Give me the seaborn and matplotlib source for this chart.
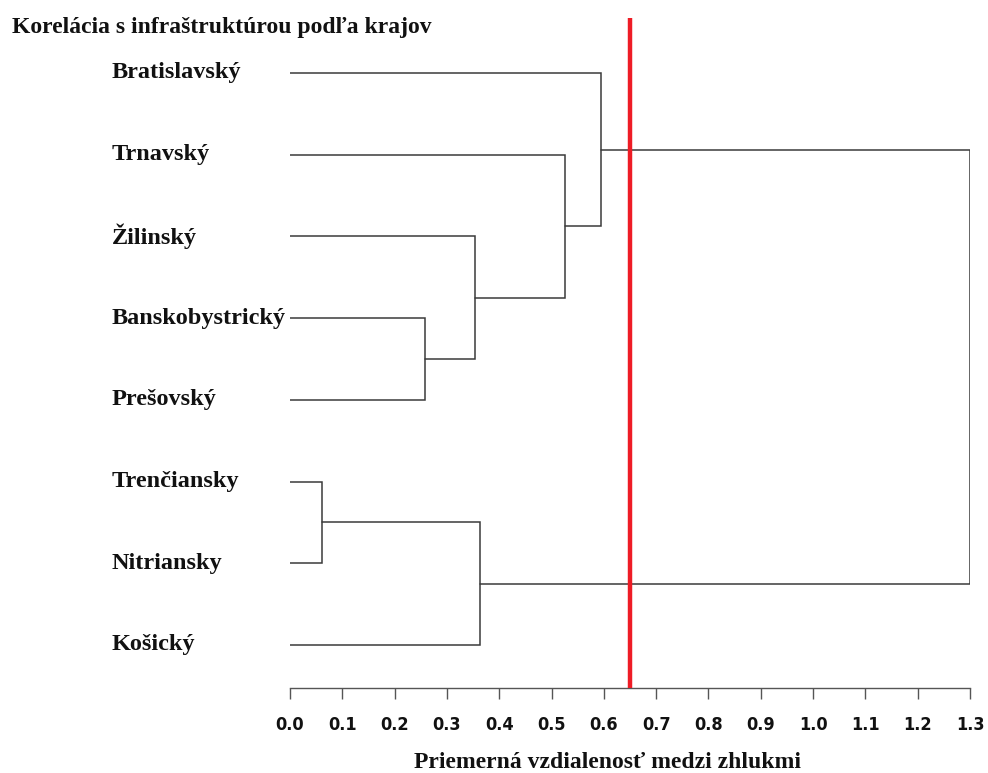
import matplotlib
matplotlib.use("Agg")
import matplotlib.pyplot as plt
import matplotlib.transforms as mtransforms
import seaborn as sns

# leaves in plotting order (top to bottom)
regions = ["Bratislavský", "Trnavský", "Žilinský", "Banskobystrický",
           "Prešovský", "Trenčiansky", "Nitriansky", "Košický"]

# merges: ids 0..7 are leaves, merge k gets id 8 + k
merge_left = [3, 2, 1, 0, 5, 12, 11]
merge_right = [4, 8, 9, 10, 6, 7, 13]
merge_height = [0.258, 0.354, 0.526, 0.595, 0.061, 0.363, 1.30]

cut_height = 0.65
x_ticks = [0.0, 0.1, 0.2, 0.3, 0.4, 0.5, 0.6, 0.7, 0.8, 0.9, 1.0, 1.1, 1.2, 1.3]

sns.set_style("white")
plt.rcParams["font.family"] = ["Liberation Serif", "DejaVu Serif"]

fig = plt.figure(figsize=(9.88, 7.73), dpi=100)
ax = fig.add_axes([290 / 988, 1 - 688 / 773, 680 / 988, 670 / 773])

# position and height of every node
pos_y = {i: float(i) for i in range(len(regions))}
pos_x = {i: 0.0 for i in range(len(regions))}

line_col = "#3a3a3a"
for k, (a, b, h) in enumerate(zip(merge_left, merge_right, merge_height)):
    node = len(regions) + k
    ax.plot([pos_x[a], h, h, pos_x[b]], [pos_y[a], pos_y[a], pos_y[b], pos_y[b]],
            color=line_col, lw=1.1, solid_joinstyle="miter")
    pos_x[node] = h
    pos_y[node] = (pos_y[a] + pos_y[b]) / 2

ax.axvline(cut_height, color="#ee1c25", lw=3.2, zorder=5)

ax.set_xlim(0, 1.3)
ax.set_ylim(7.527, -0.673)
ax.set_xticks(x_ticks)
ax.set_xticklabels([f"{t:.1f}" for t in x_ticks], fontweight="bold", fontsize=13,
                   family="DejaVu Sans", fontstretch="condensed", color="#111111")
ax.tick_params(axis="x", direction="out", length=8, width=1, color="#555555",
               pad=12, bottom=True)
ax.set_yticks([])
for side in ["top", "right", "left"]:
    ax.spines[side].set_visible(False)
ax.spines["bottom"].set_color("#555555")
ax.spines["bottom"].set_linewidth(1)

# region names at left of the dendrogram
trans = mtransforms.blended_transform_factory(fig.transFigure, ax.transData)
for i, name in enumerate(regions):
    ax.text(112 / 988, pos_y[i], name, transform=trans, ha="left", va="center",
            fontsize=17.5, fontweight="bold", color="#111111", clip_on=False)

fig.text(12 / 988, 1 - 27 / 773, "Korelácia s infraštruktúrou podľa krajov",
         ha="left", va="center", fontsize=17, fontweight="bold", color="#111111")
fig.text(607 / 988, 1 - 762 / 773, "Priemerná vzdialenosť medzi zhlukmi",
         ha="center", va="center", fontsize=17, fontweight="bold", color="#111111")

fig.savefig("out.png", dpi=100)
